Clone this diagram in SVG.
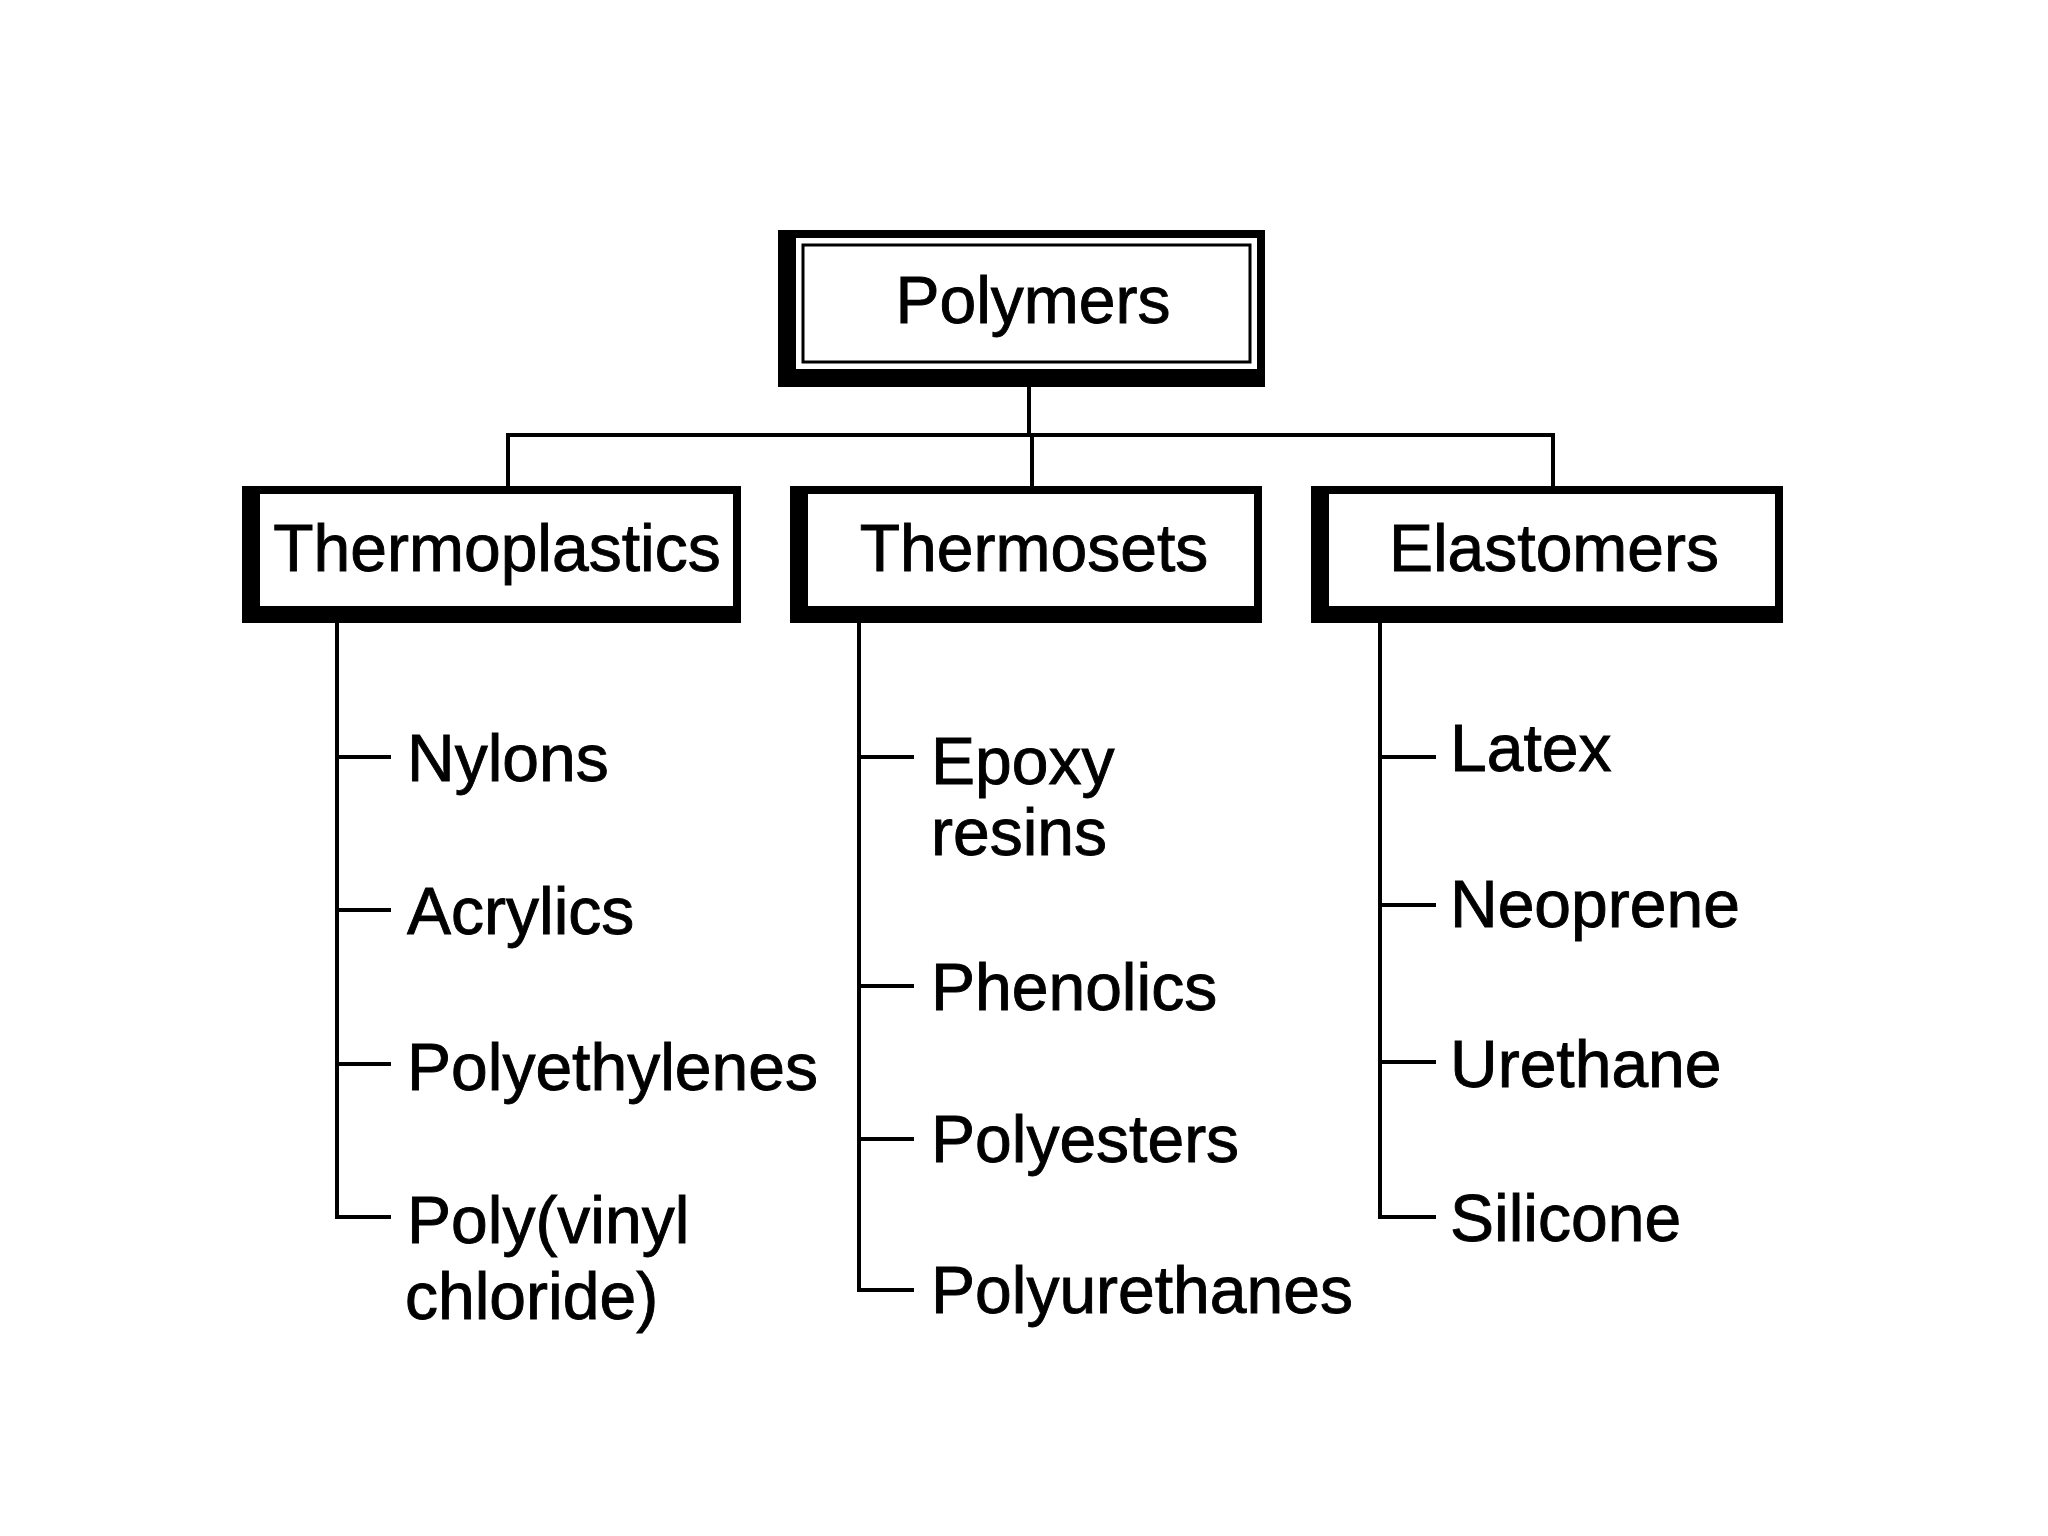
<svg xmlns="http://www.w3.org/2000/svg" width="2048" height="1536" viewBox="0 0 2048 1536">
<style>
.t{font-family:"Liberation Sans",Arial,Helvetica,sans-serif;font-size:66px;fill:#000;stroke:#000;stroke-width:0.9px}
.c{text-anchor:middle}
.ln{stroke:#000;stroke-width:4;fill:none;stroke-linecap:square}
.sh{fill:#000}
.in{fill:#fff}
</style>
<rect width="2048" height="1536" fill="#fff"/>
<g id="connectors" class="ln">
<path d="M1029 387V435M508 435H1553M508 435V487M1032 435V487M1553 435V487"/>
<path d="M337 623V1217H389M337 757H389M337 910H389M337 1064H389"/>
<path d="M859 623V1290H912M859 757H912M859 986H912M859 1139H912"/>
<path d="M1380 623V1217H1434M1380 757H1434M1380 905H1434M1380 1062H1434"/>
</g>
<g id="polymers">
<rect class="sh" x="778" y="230" width="487" height="157"/>
<rect class="in" x="796" y="238" width="461" height="131"/>
<rect x="803" y="245" width="447" height="117" fill="none" stroke="#000" stroke-width="3"/>
<text class="t c" x="1033" y="323">Polymers</text>
</g>
<g id="thermoplastics">
<rect class="sh" x="242" y="486" width="499" height="137"/>
<rect class="in" x="260" y="494" width="473" height="112"/>
<text class="t c" x="497" y="571">Thermoplastics</text>
</g>
<g id="thermosets">
<rect class="sh" x="790" y="486" width="472" height="137"/>
<rect class="in" x="808" y="494" width="446" height="112"/>
<text class="t c" x="1034" y="571">Thermosets</text>
</g>
<g id="elastomers">
<rect class="sh" x="1311" y="486" width="472" height="137"/>
<rect class="in" x="1329" y="494" width="446" height="112"/>
<text class="t c" x="1554" y="571">Elastomers</text>
</g>
<g id="nylons"><text class="t" x="407" y="781">Nylons</text></g>
<g id="acrylics"><text class="t" x="407" y="934">Acrylics</text></g>
<g id="polyethylenes"><text class="t" x="407" y="1090">Polyethylenes</text></g>
<g id="pvc"><text class="t" x="407" y="1243">Poly(vinyl<tspan x="405" y="1319">chloride)</tspan></text></g>
<g id="epoxy"><text class="t" x="931" y="784">Epoxy<tspan x="931" y="855">resins</tspan></text></g>
<g id="phenolics"><text class="t" x="931" y="1010">Phenolics</text></g>
<g id="polyesters"><text class="t" x="931" y="1162">Polyesters</text></g>
<g id="polyurethanes"><text class="t" x="931" y="1313">Polyurethanes</text></g>
<g id="latex"><text class="t" x="1450" y="771">Latex</text></g>
<g id="neoprene"><text class="t" x="1450" y="927">Neoprene</text></g>
<g id="urethane"><text class="t" x="1450" y="1087">Urethane</text></g>
<g id="silicone"><text class="t" x="1450" y="1241">Silicone</text></g>
</svg>
